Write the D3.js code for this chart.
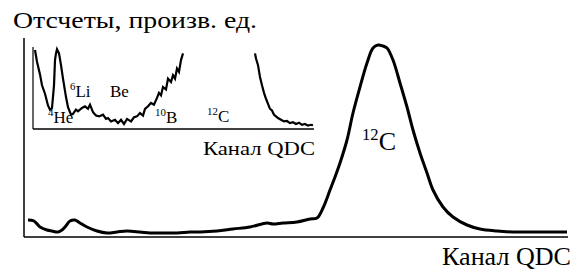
<!DOCTYPE html>
<html>
<head>
<meta charset="utf-8">
<script src="https://cdnjs.cloudflare.com/ajax/libs/d3/7.8.5/d3.min.js"></script>
<style>
  body { margin: 0; background: #fff; }
</style>
</head>
<body>
<div id="chart-area"></div>
<script>
// spectrum of main detector (channel, counts)
let mainChannel = [8, 20, 32, 46, 56, 68, 76, 82, 92, 102, 112, 126, 146, 166, 186, 206, 232, 252, 272, 306, 332, 352, 386, 418, 452, 486,
  498, 518, 546, 572, 586, 598, 612, 622, 632, 646, 658, 672, 686, 698, 708, 718, 726, 738, 752, 766, 778, 792, 806, 818, 838, 858,
  886, 912, 946, 978, 1012, 1046, 1086];
let mainCount = [85, 80, 50, 35, 30, 25, 35, 50, 80, 85, 70, 50, 30, 20, 25, 30, 25, 20, 20, 20, 25, 25, 30, 40, 50, 70,
  65, 70, 75, 90, 95, 145, 235, 300, 370, 485, 620, 750, 870, 945, 960, 955, 945, 885, 770, 650, 535, 420, 320, 235, 150, 100,
  60, 40, 30, 25, 25, 25, 25];

// inset: zoomed low-channel part of the same spectrum
let insetLeftChannel = [4, 8, 14, 18, 24, 30, 34, 38, 42, 44, 46, 48, 52, 56, 60, 66, 70, 76, 80, 86, 90, 98, 104, 110, 114, 120, 126, 132,
  140, 146, 150, 156, 164, 170, 176, 182, 188, 196, 202, 208, 214, 220, 224, 230, 236, 242, 248, 252, 256, 260, 266, 270, 276, 280,
  284, 288, 292, 296, 300];
let insetLeftCount = [940, 800, 650, 520, 420, 280, 230, 250, 520, 820, 900, 950, 900, 760, 600, 380, 260, 170, 180, 230, 210, 250, 270, 240, 290,
  200, 160, 150, 170, 120, 130, 90, 110, 70, 110, 60, 120, 90, 140, 150, 190, 160, 240, 270, 310, 290, 370, 430, 400, 500, 470, 600,
  560, 640, 600, 720, 680, 820, 900];
let insetRightChannel = [444, 446, 450, 454, 458, 462, 466, 470, 474, 478, 482, 486, 490, 496, 502, 508, 514, 520, 526, 532, 538, 544, 550, 556, 560];
let insetRightCount = [900, 840, 760, 620, 520, 430, 360, 300, 240, 220, 170, 150, 130, 110, 90, 95, 70, 80, 60, 75, 50, 60, 40, 50, 45];

// labels
let mainLabel = {sup: "12", base: "C", channel: 676, count: 435};
let insetLabels = [
  {sup: "4", base: "He", channel: 30, count: 75},
  {sup: "6", base: "Li", channel: 74, count: 380},
  {sup: "", base: "Be", channel: 154, count: 380},
  {sup: "10", base: "B", channel: 244, count: 75},
  {sup: "12", base: "C", channel: 348, count: 85}
];

let width = 586, height = 273;
let serif = "'Liberation Serif', 'Times New Roman', Times, serif";

let svg = d3.select("#chart-area").append("svg")
  .attr("width", width)
  .attr("height", height);

// main axes
let x = d3.scaleLinear().domain([0, 1088]).range([24, 568]);
let y = d3.scaleLinear().domain([0, 1000]).range([237, 37]);

svg.append("line")
  .attr("x1", x(0)).attr("x2", x(0))
  .attr("y1", y(0)).attr("y2", 38)
  .attr("stroke", "#000").attr("stroke-width", 1.5);
svg.append("line")
  .attr("x1", x(0)).attr("x2", x(1088))
  .attr("y1", y(0)).attr("y2", y(0))
  .attr("stroke", "#000").attr("stroke-width", 1.5);

let line = d3.line()
  .x(d => x(d[0]))
  .y(d => y(d[1]))
  .curve(d3.curveCatmullRom);

svg.append("path")
  .attr("fill", "none")
  .attr("stroke", "#000")
  .attr("stroke-width", 3)
  .attr("stroke-linejoin", "round")
  .attr("d", line(d3.zip(mainChannel, mainCount)));

// inset
let xi = d3.scaleLinear().domain([0, 562]).range([33, 314]);
let yi = d3.scaleLinear().domain([0, 1000]).range([129, 45]);

svg.append("line")
  .attr("x1", xi(0)).attr("x2", xi(0))
  .attr("y1", yi(0)).attr("y2", 47)
  .attr("stroke", "#000").attr("stroke-width", 1.2);
svg.append("line")
  .attr("x1", xi(0)).attr("x2", xi(562))
  .attr("y1", yi(0)).attr("y2", yi(0))
  .attr("stroke", "#000").attr("stroke-width", 1.5);

let insetLine = d3.line()
  .x(d => xi(d[0]))
  .y(d => yi(d[1]));

svg.append("path")
  .attr("fill", "none").attr("stroke", "#000").attr("stroke-width", 2.2)
  .attr("d", insetLine(d3.zip(insetLeftChannel, insetLeftCount)));
svg.append("path")
  .attr("fill", "none").attr("stroke", "#000").attr("stroke-width", 2.2)
  .attr("d", insetLine(d3.zip(insetRightChannel, insetRightCount)));

// texts (stretched a little to match the wide print face)
svg.append("text")
  .attr("x", 13).attr("y", 28)
  .attr("font-family", serif)
  .attr("font-size", 24)
  .attr("textLength", 244)
  .attr("lengthAdjust", "spacingAndGlyphs")
  .text("Отсчеты, произв. ед.");

svg.append("text")
  .attr("x", 442).attr("y", 265)
  .attr("font-family", serif)
  .attr("font-size", 25)
  .attr("textLength", 129)
  .attr("lengthAdjust", "spacingAndGlyphs")
  .text("Канал QDC");

svg.append("text")
  .attr("x", 203).attr("y", 155)
  .attr("font-family", serif)
  .attr("font-size", 19)
  .attr("textLength", 112)
  .attr("lengthAdjust", "spacingAndGlyphs")
  .text("Канал QDC");

function isotope(sel, d, size) {
  let t = sel.append("text")
    .attr("x", d.x).attr("y", d.y)
    .attr("font-family", serif)
    .attr("font-size", size);
  if (d.sup) {
    t.append("tspan").attr("font-size", size * 0.64).attr("dy", -size * 0.4).text(d.sup);
    t.append("tspan").attr("dy", size * 0.4).text(d.base);
  } else {
    t.append("tspan").text(d.base);
  }
}

isotope(svg, {sup: mainLabel.sup, base: mainLabel.base, x: 362, y: 150}, 26);
insetLabels.forEach(d => isotope(svg, {sup: d.sup, base: d.base, x: xi(d.channel), y: yi(d.count)}, 17));
</script>
</body>
</html>
